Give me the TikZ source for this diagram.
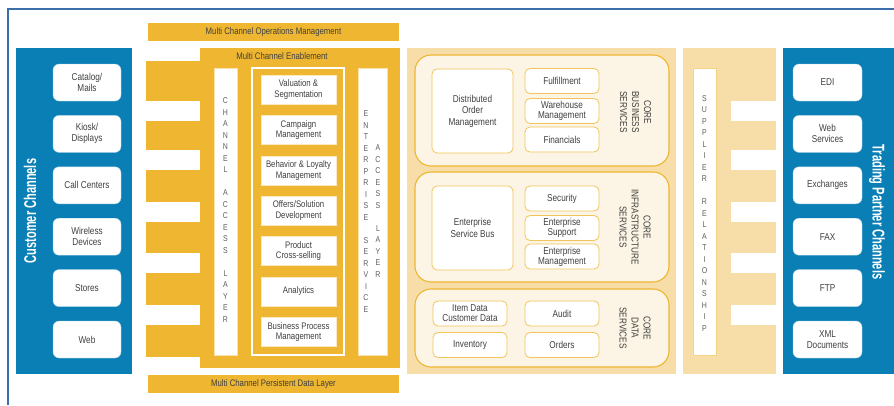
\documentclass[tikz,border=0pt]{standalone}
\usepackage{fontspec}
\setmainfont{Liberation Sans}[FakeStretch=0.82]
\newfontfamily\titlefont{Liberation Sans}[FakeStretch=0.65]
\usetikzlibrary{positioning}

\definecolor{chanblue}{HTML}{0A7FB5}
\definecolor{mcgold}{HTML}{EEB631}
\definecolor{sandbg}{HTML}{F7DDA8}
\definecolor{creambg}{HTML}{FCF4E4}
\definecolor{txtgray}{HTML}{404040}
\definecolor{framebl}{HTML}{3C6EAA}

\begin{document}
\begin{tikzpicture}[x=1pt,y=-1pt,
    chanbox/.style={draw=chanblue!35, fill=white, rounded corners=6pt, minimum width=68, minimum height=37,
        inner sep=0pt, align=center, text=txtgray, font=\fontsize{10}{11}\selectfont},
    mcbox/.style={draw=mcgold!30, fill=white, minimum width=75, minimum height=29,
        inner sep=0pt, align=center, text=txtgray, font=\fontsize{9.5}{10.5}\selectfont},
    svcbox/.style={draw=mcgold!80, line width=0.8pt, fill=white, rounded corners=5pt, minimum width=74, minimum height=25,
        inner sep=0pt, align=center, text=txtgray, font=\fontsize{10}{10}\selectfont},
    section/.style={draw=mcgold, line width=1.1pt, fill=creambg, rounded corners=16pt, minimum width=254, inner sep=0pt},
    corelabel/.style={rotate=-90, align=center, text=txtgray, font=\fontsize{10}{12}\selectfont},
    barlabel/.style={text=txtgray, font=\fontsize{9.5}{10}\selectfont},
    stack/.style={align=center, text=txtgray!85, font=\fontsize{8.5}{11.5}\selectfont, inner sep=0pt},
    sidetitle/.style={text=white, font=\titlefont\bfseries\fontsize{17}{17}\selectfont}]
    \useasboundingbox (0,0) rectangle (894,405);

    % outer frame
    \draw[framebl, line width=2.2pt] (8,405) -- (8,9) -- (894,9);

    % customer channels
    \fill[chanblue] (16,48) rectangle (132,374);
    \node[sidetitle, rotate=90] (custtitle) at (30,211) {Customer Channels};
    \foreach \nm/\txt [count=\i from 0] in {cat/{Catalog/\\Mails}, kiosk/{Kiosk/\\Displays}, call/{Call Centers},
        wire/{Wireless\\Devices}, store/Stores, web/Web}
        \node[chanbox] (\nm) at (87,82.5+\i*51.4) {\txt};

    % multi channel block
    \fill[mcgold] (148,23) rectangle (399,41);
    \node[barlabel] (mcops) at (273.5,32) {Multi Channel Operations Management};
    \fill[mcgold] (200,48) rectangle (400,368);
    \foreach \t/\b in {61/101,121/150,170/202,222/253,273/305,325/357}
        \fill[mcgold] (146,\t) rectangle (200,\b);
    \node[barlabel] (mcenable) at (282,56) {Multi Channel Enablement};
    \fill[mcgold] (148,375) rectangle (399,393);
    \node[barlabel] (mcdata) at (273.5,384) {Multi Channel Persistent Data Layer};

    % access layers
    \filldraw[fill=white, draw=mcgold!40] (214,68) rectangle (237,355);
    \node[stack] (chanaccess) at (225.5,210) {C\\H\\A\\N\\N\\E\\L\\[11.5pt]A\\C\\C\\E\\S\\S\\[11.5pt]L\\A\\Y\\E\\R};
    \filldraw[fill=white, draw=mcgold!40] (358,68) rectangle (387,355);
    \node[stack] (entservice) at (366,211.5) {E\\N\\T\\E\\R\\P\\R\\I\\S\\E\\[11.5pt]S\\E\\R\\V\\I\\C\\E};
    \node[stack] (entaccess) at (378,211) {A\\C\\C\\E\\S\\S\\[11.5pt]L\\A\\Y\\E\\R};

    % enablement functions
    \draw[white, line width=2pt] (252,68) rectangle (344,355);
    \foreach \nm/\txt [count=\i from 0] in {val/{Valuation \&\\Segmentation}, camp/{Campaign\\Management},
        loyal/{Behavior \& Loyalty\\Management}, offer/{Offers/Solution\\Development}, cross/{Product\\Cross-selling},
        anly/Analytics, bpm/{Business Process\\Management}}
        \node[mcbox] (\nm) at (298.5,89.5+\i*40.4) {\txt};

    % core services
    \fill[sandbg] (407,48) rectangle (676,374);
    \node[section, minimum height=111] (corebus) at (542,110.5) {};
    \node[section, minimum height=110] (coreinfra) at (542,227) {};
    \node[section, minimum height=78] (coredata) at (542,328) {};

    \node[svcbox, minimum width=81, minimum height=84] (dom) at (472.5,111) {Distributed\\[1.5pt]Order\\[1.5pt]Management};
    \node[svcbox] (fulfil) at (562,81) {Fulfillment};
    \node[svcbox] (whse) at (562,111) {Warehouse\\Management};
    \node[svcbox] (fin) at (562,139.5) {Financials};
    \node[corelabel] (cbslabel) at (635.5,112) {CORE\\BUSINESS\\SERVICES};

    \node[svcbox, minimum width=81, minimum height=84] (esb) at (472.5,228) {Enterprise\\[1.5pt]Service Bus};
    \node[svcbox] (secur) at (562,198.5) {Security};
    \node[svcbox] (esupp) at (562,228) {Enterprise\\Support};
    \node[svcbox] (emgmt) at (562,256.5) {Enterprise\\Management};
    \node[corelabel] (cislabel) at (635,227) {CORE\\INFRASTRUCTURE\\SERVICES};

    \node[svcbox] (itemdata) at (470,313.5) {Item Data\\Customer Data};
    \node[svcbox] (invent) at (470,345) {Inventory};
    \node[svcbox] (audit) at (562,313.5) {Audit};
    \node[svcbox] (orders) at (562,345) {Orders};
    \node[corelabel] (cdslabel) at (635,328) {CORE\\DATA\\SERVICES};

    % supplier relationship
    \fill[sandbg] (683,48) rectangle (776,374);
    \foreach \t/\b in {101/121,150/170,202/222,253/273,305/325}
        \fill[white] (731,\t) rectangle (776.5,\b);
    \filldraw[fill=white, draw=mcgold!60] (693,68) rectangle (716,355);
    \node[stack] (supplier) at (704.5,213.5) {S\\U\\P\\P\\L\\I\\E\\R\\[11.5pt]R\\E\\L\\A\\T\\I\\O\\N\\S\\H\\I\\P};

    % trading partner channels
    \fill[chanblue] (783,48) rectangle (894,374);
    \node[sidetitle, rotate=-90] (tradetitle) at (877,212) {Trading Partner Channels};
    \foreach \nm/\txt [count=\i from 0] in {edi/EDI, websvc/{Web\\Services}, exch/Exchanges, fax/FAX, ftp/FTP,
        xmldoc/{XML\\Documents}}
        \node[chanbox, minimum width=69] (\nm) at (827.5,82.5+\i*51.4) {\txt};
\end{tikzpicture}
\end{document}
